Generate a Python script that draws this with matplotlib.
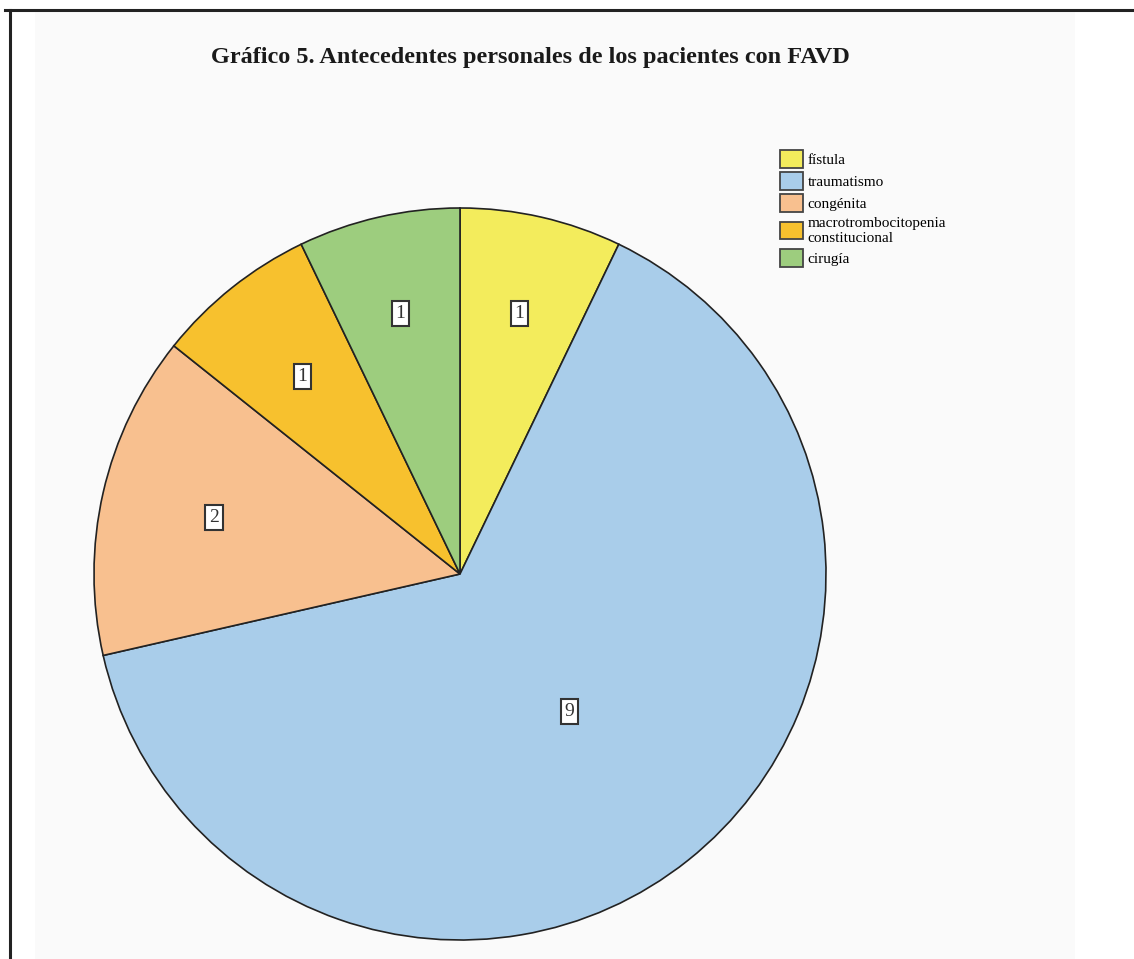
import numpy as np
import matplotlib
matplotlib.use('Agg')
import matplotlib.pyplot as plt
from matplotlib.lines import Line2D
from matplotlib.patches import Rectangle, Patch

# datos del grafico
categorias = ['fístula', 'traumatismo', 'congénita',
              'macrotrombocitopenia\nconstitucional', 'cirugía']
pacientes = [1, 9, 2, 1, 1]
colores = ['#f3ec5c', '#a9cdea', '#f8c08f', '#f7c12e', '#9dcd7e']
titulo = 'Gráfico 5. Antecedentes personales de los pacientes con FAVD'

plt.rcParams['font.family'] = ['Liberation Serif', 'DejaVu Serif']

W, H = 1134, 959
fig = plt.figure(figsize=(W / 100, H / 100), dpi=100)
fig.patch.set_facecolor('white')

# panel gris muy claro y marco
fig.add_artist(Rectangle((35 / W, 0), 1040 / W, 1 - 12 / H, transform=fig.transFigure,
                         facecolor='#fafafa', edgecolor='none', zorder=0))
fig.add_artist(Line2D([5 / W, 1], [1 - 10 / H, 1 - 10 / H], color='#222222', lw=2.2))
fig.add_artist(Line2D([10 / W, 10 / W], [0, 1 - 10 / H], color='#222222', lw=2.2))

fig.text(530 / W, 1 - 58 / H, titulo, ha='center', va='center',
         fontsize=17.5, fontweight='bold', color='#1a1a1a')

# ejes del pie (circulo 94..826 x, 208..940 y)
cx, cy, r = 460, 574, 366
ax = fig.add_axes([(cx - r) / W, (H - cy - r) / H, 2 * r / W, 2 * r / H])

cunas, _ = ax.pie(pacientes, colors=colores, startangle=90, counterclock=False,
                  radius=1, wedgeprops=dict(edgecolor='#222222', linewidth=1.2))
ax.set_xlim(-1, 1)
ax.set_ylim(-1, 1)
ax.set_aspect('equal')
ax.axis('off')

# etiquetas con caja blanca
dist = [0.73, 0.48, 0.69, 0.69, 0.73]
for w, v, d in zip(cunas, pacientes, dist):
    ang = np.deg2rad((w.theta1 + w.theta2) / 2)
    ax.text(d * np.cos(ang), d * np.sin(ang), str(v), ha='center', va='center',
            fontsize=14, color='#333333',
            bbox=dict(boxstyle='square,pad=0.2', facecolor='white',
                      edgecolor='#333333', linewidth=1.5))

handles = [Patch(facecolor=c, edgecolor='#444444', linewidth=1.3) for c in colores]
fig.legend(handles, categorias, loc='upper left', bbox_to_anchor=(780 / W, 1 - 150 / H),
           frameon=False, fontsize=11, handlelength=1.5, handleheight=1.4,
           handletextpad=0.3, labelspacing=0.3, borderaxespad=0, borderpad=0)

fig.savefig('out.png', dpi=100)
